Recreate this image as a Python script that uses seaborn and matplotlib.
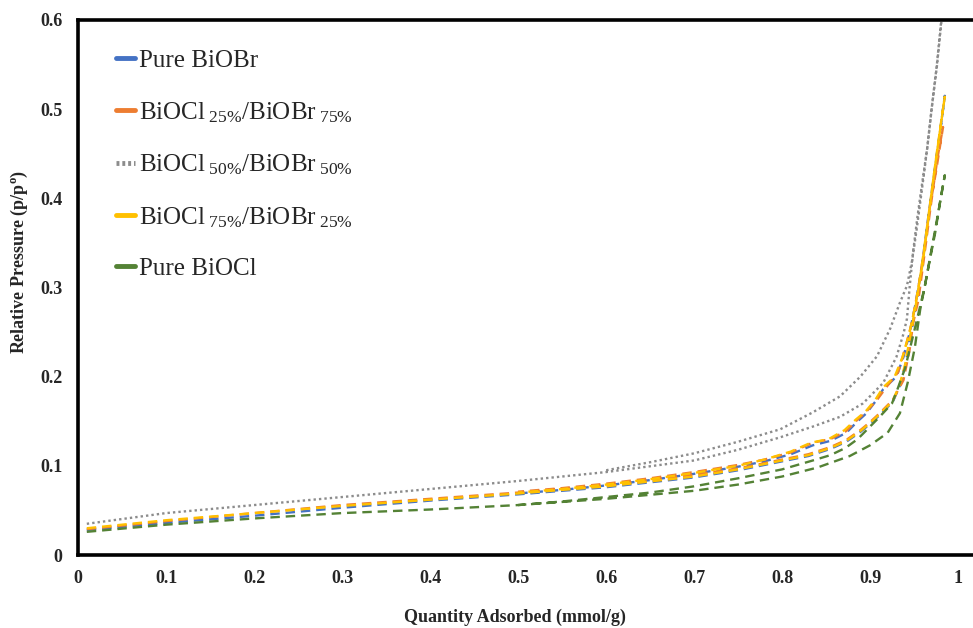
import matplotlib
matplotlib.use('Agg')
import matplotlib.pyplot as plt
from matplotlib.lines import Line2D
import pandas as pd
import seaborn as sns

# each series is one closed loop: adsorption branch up, desorption branch back down
blue_x = [0.01, 0.1, 0.2, 0.3, 0.4, 0.5, 0.6, 0.7, 0.75, 0.8, 0.83, 0.855, 0.873, 0.889, 0.9, 0.911, 0.926,
          0.934, 0.94, 0.946, 0.952, 0.958, 0.964, 0.97, 0.976, 0.981, 0.985,
          0.979, 0.972, 0.965, 0.959, 0.951, 0.945, 0.938, 0.93, 0.915, 0.906, 0.896, 0.886, 0.873, 0.855,
          0.835, 0.81, 0.78, 0.75, 0.7, 0.65, 0.6, 0.55, 0.5]
blue_y = [0.028, 0.036, 0.044, 0.053, 0.061, 0.068, 0.076, 0.087, 0.095, 0.105, 0.111, 0.119, 0.127, 0.138, 0.147, 0.157, 0.172,
          0.19, 0.212, 0.245, 0.278, 0.315, 0.36, 0.405, 0.45, 0.485, 0.515,
          0.47, 0.42, 0.37, 0.323, 0.278, 0.249, 0.222, 0.2, 0.186, 0.172, 0.159, 0.15, 0.137, 0.128,
          0.123, 0.113, 0.105, 0.099, 0.091, 0.084, 0.078, 0.073, 0.069]

orange_x = [0.01, 0.1, 0.2, 0.3, 0.4, 0.5, 0.6, 0.7, 0.75, 0.8, 0.83, 0.855, 0.873, 0.889, 0.9, 0.911, 0.926,
            0.938, 0.945, 0.949, 0.955, 0.96, 0.964, 0.968, 0.972, 0.977, 0.983,
            0.975, 0.968, 0.962, 0.955, 0.948, 0.94, 0.932, 0.92, 0.908, 0.896, 0.886, 0.873, 0.855,
            0.835, 0.81, 0.78, 0.75, 0.7, 0.65, 0.6, 0.55, 0.5]
orange_y = [0.029, 0.038, 0.047, 0.056, 0.063, 0.07, 0.078, 0.09, 0.097, 0.107, 0.113, 0.121, 0.129, 0.14, 0.149, 0.159, 0.174,
            0.196, 0.23, 0.26, 0.286, 0.323, 0.353, 0.384, 0.413, 0.447, 0.48,
            0.43, 0.39, 0.345, 0.3, 0.262, 0.232, 0.205, 0.19, 0.174, 0.161, 0.152, 0.139, 0.13,
            0.126, 0.115, 0.107, 0.101, 0.093, 0.086, 0.08, 0.075, 0.071]

gray_x = [0.01, 0.1, 0.2, 0.3, 0.4, 0.5, 0.6, 0.7, 0.75, 0.798, 0.835, 0.866, 0.892, 0.915, 0.93, 0.938, 0.942,
          0.945, 0.949, 0.954, 0.959, 0.965, 0.97, 0.976, 0.981, 0.983,
          0.981, 0.976, 0.97, 0.965, 0.959, 0.953, 0.948, 0.942, 0.934, 0.923, 0.908, 0.889, 0.866, 0.835,
          0.798, 0.75, 0.7, 0.65, 0.6]
gray_y = [0.035, 0.047, 0.056, 0.065, 0.074, 0.083, 0.093, 0.106, 0.118, 0.132, 0.144, 0.155, 0.17, 0.193, 0.222, 0.248, 0.265,
          0.3, 0.34, 0.38, 0.415, 0.456, 0.5, 0.548, 0.597, 0.62,
          0.6, 0.55, 0.5, 0.456, 0.41, 0.365, 0.331, 0.302, 0.283, 0.254, 0.223, 0.2, 0.178, 0.16,
          0.141, 0.127, 0.114, 0.104, 0.095]

yellow_x = [0.01, 0.1, 0.2, 0.3, 0.4, 0.5, 0.6, 0.7, 0.75, 0.8, 0.83, 0.855, 0.873, 0.889, 0.9, 0.911, 0.926,
            0.934, 0.94, 0.946, 0.952, 0.958, 0.964, 0.97, 0.976, 0.981, 0.985,
            0.979, 0.972, 0.966, 0.96, 0.952, 0.945, 0.937, 0.928, 0.915, 0.906, 0.895, 0.884, 0.871, 0.853,
            0.833, 0.81, 0.78, 0.75, 0.7, 0.65, 0.6, 0.55, 0.5]
yellow_y = [0.03, 0.039, 0.047, 0.055, 0.062, 0.069, 0.077, 0.088, 0.096, 0.106, 0.112, 0.12, 0.128, 0.139, 0.148, 0.158, 0.173,
            0.192, 0.214, 0.247, 0.28, 0.318, 0.362, 0.407, 0.452, 0.487, 0.514,
            0.472, 0.422, 0.375, 0.328, 0.282, 0.25, 0.222, 0.2, 0.188, 0.174, 0.161, 0.152, 0.14, 0.13,
            0.126, 0.116, 0.107, 0.1, 0.092, 0.085, 0.079, 0.074, 0.07]

green_x = [0.01, 0.1, 0.2, 0.3, 0.4, 0.5, 0.6, 0.7, 0.75, 0.8, 0.84, 0.877, 0.9, 0.92, 0.934, 0.943, 0.951,
           0.957, 0.963, 0.968, 0.974, 0.98, 0.985,
           0.975, 0.962, 0.95, 0.94, 0.932, 0.925, 0.911, 0.9, 0.886, 0.872, 0.855, 0.835, 0.8, 0.75,
           0.7, 0.65, 0.6, 0.55, 0.5]
green_y = [0.026, 0.034, 0.041, 0.047, 0.051, 0.056, 0.063, 0.072, 0.079, 0.088, 0.098, 0.111, 0.123, 0.137, 0.159, 0.194, 0.233,
           0.275, 0.305, 0.331, 0.361, 0.398, 0.426,
           0.37, 0.3, 0.25, 0.21, 0.188, 0.17, 0.155, 0.144, 0.13, 0.12, 0.112, 0.106, 0.096, 0.086,
           0.077, 0.07, 0.065, 0.06, 0.056]

labels = ['Pure BiOBr',
          r'BiOCl$_{\ 25\%}$/BiOBr$_{\ 75\%}$',
          r'BiOCl$_{\ 50\%}$/BiOBr$_{\ 50\%}$',
          r'BiOCl$_{\ 75\%}$/BiOBr$_{\ 25\%}$',
          'Pure BiOCl']
colors = ['#4472C4', '#ED7D31', '#8C8C8C', '#FFC000', '#548235']
styles = [(0, (4, 2.5)), (0, (4, 2.5)), (0, (1, 1.3)), (0, (4, 2.5)), (0, (4, 2.5))]

series = [(blue_x, blue_y), (orange_x, orange_y), (gray_x, gray_y), (yellow_x, yellow_y), (green_x, green_y)]

sns.set_style('white')
plt.rcParams['font.family'] = ['Liberation Serif', 'DejaVu Serif']
plt.rcParams['mathtext.fontset'] = 'custom'
plt.rcParams['mathtext.rm'] = 'Liberation Serif'
plt.rcParams['mathtext.it'] = 'Liberation Serif:italic'
plt.rcParams['mathtext.bf'] = 'Liberation Serif:bold'

fig = plt.figure(figsize=(9.73, 6.28), dpi=100)
ax = fig.add_axes([78 / 973, 73 / 628, 895 / 973, 535 / 628])

for (xs, ys), c, ls in zip(series, colors, styles):
    df = pd.DataFrame({'x': xs, 'y': ys})
    sns.lineplot(data=df, x='x', y='y', sort=False, estimator=None, ax=ax,
                 color=c, linewidth=1.7, linestyle=ls)

ax.set_xlim(0, 895 / 880)
ax.set_ylim(0, 0.6)
ax.set_xticks([0, 0.1, 0.2, 0.3, 0.4, 0.5, 0.6, 0.7, 0.8, 0.9, 1.0])
ax.set_xticklabels(['0', '0.1', '0.2', '0.3', '0.4', '0.5', '0.6', '0.7', '0.8', '0.9', '1'])
ax.set_yticks([0, 0.1, 0.2, 0.3, 0.4, 0.5, 0.6])
ax.set_yticklabels(['0', '0.1', '0.2', '0.3', '0.4', '0.5', '0.6'])
ax.tick_params(length=0, labelsize=13, pad=11)
for lab in ax.get_xticklabels() + ax.get_yticklabels():
    lab.set_fontweight('bold')

for side in ['left', 'bottom', 'top']:
    ax.spines[side].set_color('black')
    ax.spines[side].set_linewidth(2.6)
ax.spines['right'].set_visible(False)

ax.set_xlabel('Quantity Adsorbed (mmol/g)', fontsize=13, fontweight='bold')
ax.set_ylabel(r'Relative Pressure (p/p$^{\mathbf{o}}$)', fontsize=13, fontweight='bold')
ax.xaxis.set_label_coords(0.488, -0.1)
ax.yaxis.set_label_coords(-0.054, 0.548)

handles = [Line2D([], [], color=c, linewidth=3.5, linestyle='-' if i != 2 else (0, (0.6, 0.6)))
           for i, c in enumerate(colors)]
ax.legend(handles, labels, loc='upper left', bbox_to_anchor=(0.043, 0.945), frameon=False,
          fontsize=18, handlelength=0.75, handletextpad=0.15, labelspacing=1.12,
          borderpad=0, borderaxespad=0)

fig.savefig('out.png', dpi=100)
